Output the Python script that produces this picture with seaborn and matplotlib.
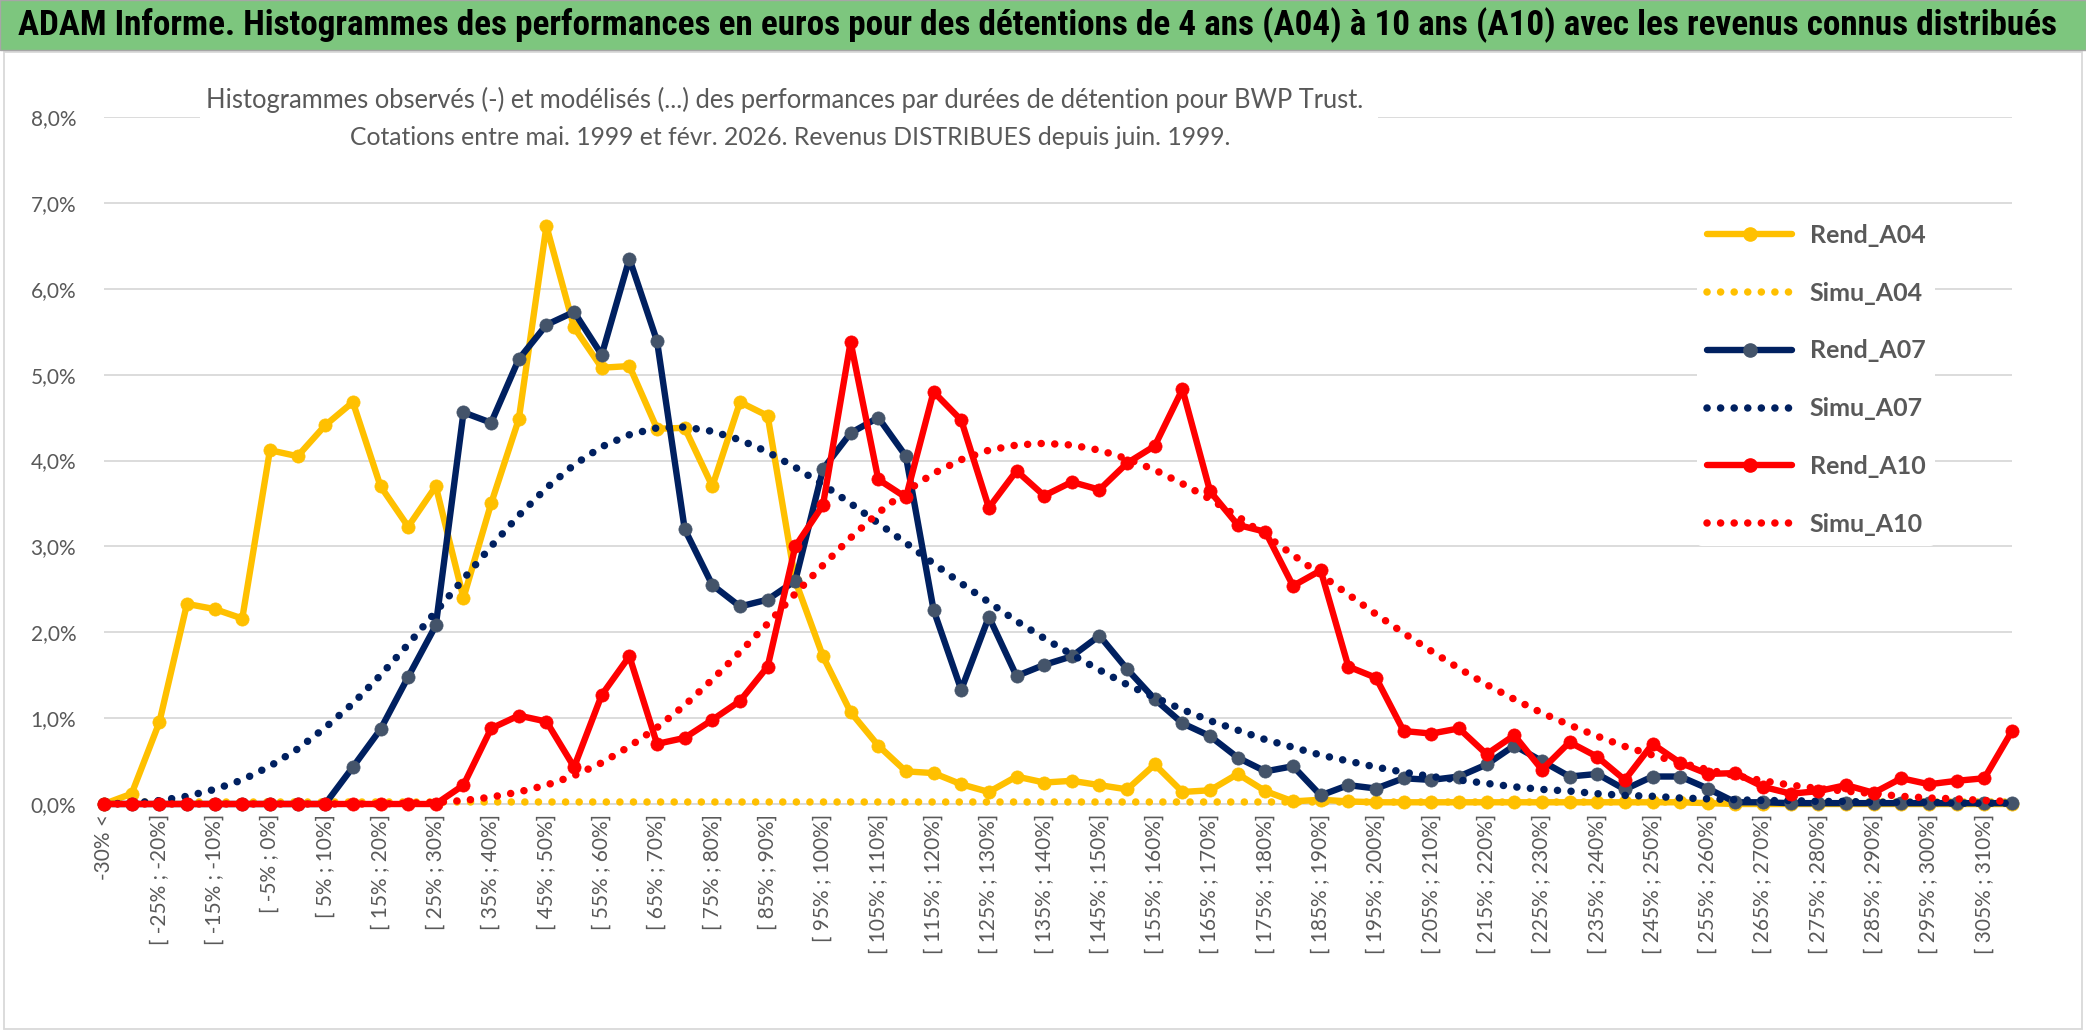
import numpy as np
import pandas as pd
import matplotlib
matplotlib.use("Agg")
import matplotlib.pyplot as plt
import seaborn as sns
from matplotlib.lines import Line2D
from matplotlib.patches import Rectangle
from matplotlib.ticker import FuncFormatter
from matplotlib import font_manager as fm

# ---------------- data ----------------
categories = ["-30% <"] + [f"[ {lo}% ; {lo + 5}%]" for lo in range(-30, 310, 5)] + ["310% >"]

rend_a04 = [0.00, 0.12, 0.95, 2.33, 2.27, 2.16, 4.12, 4.05, 4.41, 4.68,
            3.70, 3.23, 3.70, 2.40, 3.50, 4.48, 6.73, 5.55, 5.08, 5.10,
            4.37, 4.38, 3.70, 4.68, 4.52, 2.60, 1.72, 1.07, 0.68, 0.38,
            0.36, 0.23, 0.14, 0.32, 0.25, 0.27, 0.22, 0.17, 0.46, 0.14,
            0.16, 0.35, 0.15, 0.03, 0.05, 0.03, 0.02, 0.02, 0.02, 0.02,
            0.02, 0.02, 0.02, 0.02, 0.02, 0.02, 0.02, 0.02, 0.01, 0.00,
            0.00, 0.00, 0.00, 0.00, 0.00, 0.00, 0.00, 0.00, 0.00, 0.00]

simu_a04 = [0.02, 0.02, 0.02, 0.02, 0.02, 0.02, 0.02, 0.02, 0.02, 0.02,
            0.02, 0.02, 0.02, 0.02, 0.02, 0.02, 0.02, 0.02, 0.02, 0.02,
            0.02, 0.02, 0.02, 0.02, 0.02, 0.02, 0.02, 0.02, 0.02, 0.02,
            0.02, 0.02, 0.02, 0.02, 0.02, 0.02, 0.02, 0.02, 0.02, 0.02,
            0.02, 0.02, 0.02, 0.02, 0.02, 0.02, 0.02, 0.02, 0.02, 0.02,
            0.02, 0.02, 0.02, 0.02, 0.02, 0.02, 0.02, 0.02, 0.02, 0.02,
            0.02, 0.02, 0.02, 0.02, 0.02, 0.02, 0.02, 0.02, 0.02, 0.02]

rend_a07 = [0.00, 0.00, 0.00, 0.00, 0.00, 0.00, 0.00, 0.00, 0.00, 0.43,
            0.87, 1.48, 2.08, 4.56, 4.44, 5.18, 5.58, 5.73, 5.23, 6.35,
            5.39, 3.20, 2.55, 2.30, 2.38, 2.60, 3.90, 4.32, 4.50, 4.05,
            2.26, 1.33, 2.18, 1.49, 1.62, 1.72, 1.96, 1.57, 1.22, 0.94,
            0.79, 0.54, 0.38, 0.44, 0.10, 0.22, 0.18, 0.30, 0.28, 0.32,
            0.46, 0.68, 0.50, 0.32, 0.35, 0.17, 0.32, 0.32, 0.18, 0.02,
            0.02, 0.01, 0.01, 0.01, 0.01, 0.01, 0.01, 0.01, 0.01, 0.01]

simu_a07 = [0.00, 0.01, 0.04, 0.09, 0.17, 0.28, 0.44, 0.64, 0.89, 1.17,
            1.50, 1.86, 2.24, 2.62, 3.00, 3.36, 3.68, 3.95, 4.16, 4.30,
            4.38, 4.39, 4.34, 4.24, 4.10, 3.92, 3.72, 3.50, 3.27, 3.04,
            2.80, 2.57, 2.35, 2.13, 1.93, 1.74, 1.56, 1.39, 1.24, 1.10,
            0.97, 0.86, 0.75, 0.66, 0.57, 0.50, 0.43, 0.37, 0.32, 0.28,
            0.24, 0.20, 0.17, 0.15, 0.12, 0.10, 0.09, 0.07, 0.06, 0.05,
            0.04, 0.04, 0.03, 0.03, 0.02, 0.02, 0.02, 0.01, 0.01, 0.01]

rend_a10 = [0.00, 0.00, 0.00, 0.00, 0.00, 0.00, 0.00, 0.00, 0.00, 0.00,
            0.00, 0.00, 0.00, 0.22, 0.88, 1.03, 0.96, 0.43, 1.27, 1.72,
            0.70, 0.77, 0.98, 1.20, 1.60, 3.00, 3.48, 5.38, 3.78, 3.57,
            4.80, 4.47, 3.45, 3.88, 3.59, 3.75, 3.66, 3.97, 4.17, 4.83,
            3.64, 3.25, 3.17, 2.54, 2.72, 1.60, 1.47, 0.85, 0.82, 0.88,
            0.58, 0.80, 0.40, 0.72, 0.55, 0.28, 0.70, 0.48, 0.35, 0.36,
            0.20, 0.12, 0.15, 0.22, 0.13, 0.30, 0.23, 0.27, 0.30, 0.85]

simu_a10 = [0.00, 0.00, 0.00, 0.00, 0.00, 0.00, 0.00, 0.00, 0.00, 0.00,
            0.00, 0.01, 0.02, 0.04, 0.08, 0.14, 0.22, 0.33, 0.48, 0.67,
            0.89, 1.15, 1.45, 1.77, 2.10, 2.45, 2.78, 3.10, 3.39, 3.64,
            3.85, 4.01, 4.12, 4.18, 4.20, 4.18, 4.12, 4.02, 3.89, 3.73,
            3.55, 3.35, 3.13, 2.90, 2.67, 2.44, 2.21, 1.99, 1.78, 1.58,
            1.39, 1.22, 1.06, 0.92, 0.79, 0.67, 0.57, 0.48, 0.40, 0.33,
            0.27, 0.22, 0.18, 0.15, 0.12, 0.09, 0.07, 0.06, 0.04, 0.03]

series_names = ["Rend_A04", "Simu_A04", "Rend_A07", "Simu_A07", "Rend_A10", "Simu_A10"]

TITLE = ("ADAM Informe. Histogrammes des performances en euros pour des détentions "
         "de 4 ans (A04) à 10 ans (A10) avec les revenus connus distribués")
SUB1 = ("Histogrammes observés (-) et modélisés (...) des performances par durées "
        "de détention pour BWP Trust.")
SUB2 = "Cotations entre mai. 1999 et févr. 2026. Revenus DISTRIBUES depuis juin. 1999."

# ---------------- style ----------------
sns.set_theme(style="white")


def has_font(name):
    try:
        fm.findfont(fm.FontProperties(family=name), fallback_to_default=False)
        return True
    except Exception:
        return False


base_font = "Lato" if has_font("Lato") else "DejaVu Sans"
title_font = base_font
for cand in ["Liberation Sans Narrow", "Roboto Condensed", "Open Sans Condensed",
             "Noto Sans Condensed", "DejaVu Sans Condensed"]:
    if has_font(cand):
        title_font = cand
        break
plt.rcParams["font.family"] = [base_font, "DejaVu Sans"]

YELLOW, NAVY, RED = "#FFC000", "#002060", "#FF0000"
NAVY_MK = "#44546A"
GRID = "#D9D9D9"
TXT = "#595959"
DOTS = (0, (0.01, 1.8))
LW_SOLID, MS, LW_DOT = 4.6, 9.5, 5.4

W, H = 2086, 1031
fig = plt.figure(figsize=(W / 100, H / 100), dpi=100)
fig.patch.set_facecolor("white")

L, R, T, B = 104, 2012, 117, 804
ax = fig.add_axes([L / W, 1 - B / H, (R - L) / W, (B - T) / H])

df = pd.DataFrame({
    "idx": np.arange(len(categories)),
    "Rend_A04": rend_a04, "Simu_A04": simu_a04,
    "Rend_A07": rend_a07, "Simu_A07": simu_a07,
    "Rend_A10": rend_a10, "Simu_A10": simu_a10,
})

styles = {
    "Rend_A04": dict(color=YELLOW, mk=YELLOW, solid=True),
    "Simu_A04": dict(color=YELLOW, solid=False),
    "Rend_A07": dict(color=NAVY, mk=NAVY_MK, solid=True),
    "Simu_A07": dict(color=NAVY, solid=False),
    "Rend_A10": dict(color=RED, mk=RED, solid=True),
    "Simu_A10": dict(color=RED, solid=False),
}

handles = []
for name in series_names:
    st = styles[name]
    if st["solid"]:
        sns.lineplot(data=df, x="idx", y=name, ax=ax, color=st["color"], linewidth=LW_SOLID,
                     marker="o", markersize=MS, markerfacecolor=st["mk"],
                     markeredgecolor=st["mk"], markeredgewidth=0.5,
                     errorbar=None, legend=False, clip_on=False, zorder=3)
        ax.lines[-1].set_solid_joinstyle("round")
        handles.append(Line2D([], [], color=st["color"], lw=LW_SOLID, marker="o", ms=MS,
                              mfc=st["mk"], mec=st["mk"]))
    else:
        sns.lineplot(data=df, x="idx", y=name, ax=ax, color=st["color"], linewidth=LW_DOT,
                     errorbar=None, legend=False, clip_on=False, zorder=3)
        ln = ax.lines[-1]
        ln.set_linestyle(DOTS)
        ln.set_dash_capstyle("round")
        handles.append(Line2D([], [], color=st["color"], lw=LW_DOT, linestyle=DOTS,
                              dash_capstyle="round"))

# axes formatting
ax.set_xlim(0, len(categories) - 1)
ax.set_ylim(0, 8)
ax.set_yticks(range(0, 9))
ax.yaxis.set_major_formatter(FuncFormatter(lambda v, p: f"{v:.1f}%".replace(".", ",")))
ax.set_xticks(np.arange(0, len(categories), 2))
ax.set_xticklabels(categories[::2])
ax.set_xticks(np.arange(0, len(categories), 4), minor=True)
ax.set_axisbelow(True)
ax.yaxis.grid(True, color=GRID, linewidth=1.3)
ax.xaxis.grid(True, which="minor", color=GRID, linewidth=1.3)
ax.xaxis.grid(False, which="major")
ax.tick_params(axis="x", which="both", length=0, pad=7, labelsize=15, labelcolor=TXT,
               labelrotation=90)
ax.tick_params(axis="y", length=0, pad=20, labelsize=15, labelcolor=TXT)
ax.set_xlabel("")
ax.set_ylabel("")
for s in ["top", "right", "left"]:
    ax.spines[s].set_visible(False)
ax.spines["bottom"].set_color(GRID)
ax.spines["bottom"].set_linewidth(1.3)

# legend
leg = ax.legend(handles, series_names, loc="upper left",
                bbox_to_anchor=(1697 / W, 1 - 214 / H), bbox_transform=fig.transFigure,
                frameon=True, facecolor="white", edgecolor="none", framealpha=1,
                fontsize=18, labelspacing=1.39, handlelength=3.4, handletextpad=0.7,
                borderpad=0.4, borderaxespad=0, numpoints=1)
for t in leg.get_texts():
    t.set_fontweight("bold")
    t.set_color(TXT)

# frame decorations
fig.add_artist(Rectangle((4 / W, 2 / H), (2082 - 4) / W, (1029 - 52) / H,
                         transform=fig.transFigure, facecolor="none", edgecolor=GRID,
                         linewidth=1.3, zorder=1))
fig.add_artist(Rectangle((0, 1 - 50 / H), 1, 50 / H, transform=fig.transFigure,
                         facecolor="#7DC67E", edgecolor="#A6A6A6", linewidth=1.0, zorder=1))
fig.add_artist(Rectangle((200 / W, 1 - 158 / H), 1178 / W, 88 / H, transform=fig.transFigure,
                         facecolor="white", edgecolor="none", zorder=2))

t_title = fig.text(1037.5 / W, 1 - 25 / H, TITLE, ha="center", va="center",
                   fontsize=24, fontweight="bold", color="black", zorder=5,
                   family=[title_font, "DejaVu Sans"])
t_sub1 = fig.text(785 / W, 1 - 100 / H, SUB1, ha="center", va="center",
                  fontsize=17, color=TXT, zorder=5)
t_sub2 = fig.text(790 / W, 1 - 137 / H, SUB2, ha="center", va="center",
                  fontsize=17, color=TXT, zorder=5)

fig.canvas.draw()
rend = fig.canvas.get_renderer()
for t, target in [(t_title, 2044), (t_sub1, 1158), (t_sub2, 882)]:
    w = t.get_window_extent(renderer=rend).width
    t.set_fontsize(t.get_fontsize() * target / w)

fig.savefig("out.png", dpi=100, facecolor="white")
